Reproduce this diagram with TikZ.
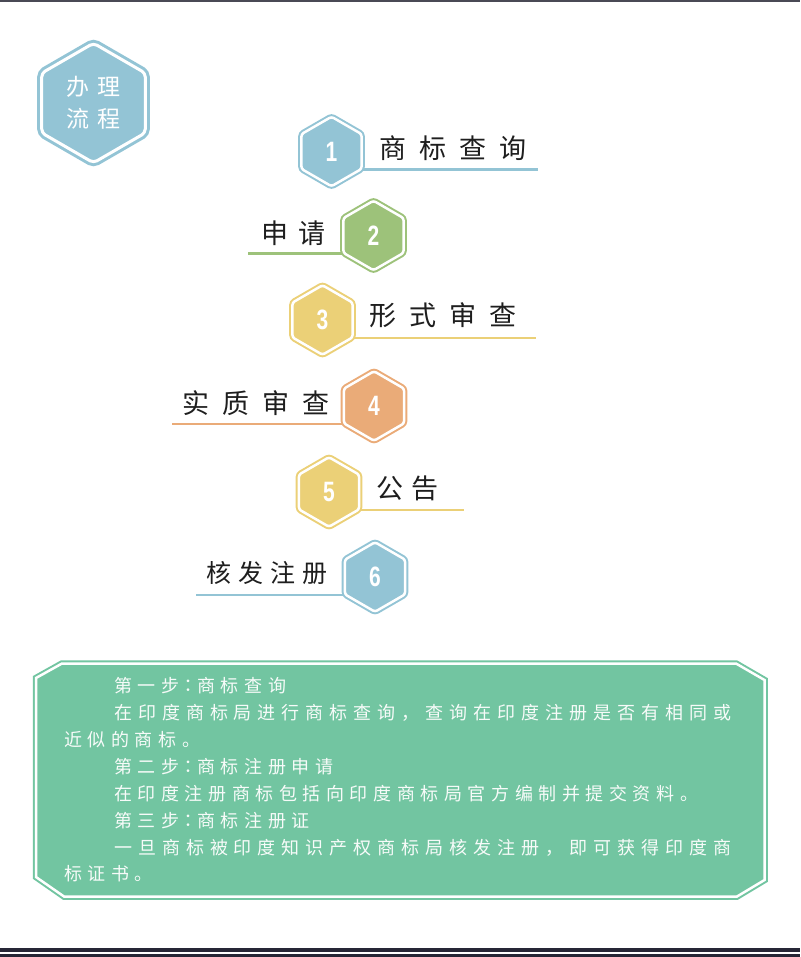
\documentclass[tikz,border=0pt]{standalone}
\usepackage{fontspec}
\setmainfont{Liberation Sans}
\newfontfamily\cjkfont{Noto Sans CJK SC}
\newfontfamily\cjkjpfont{Noto Sans CJK JP}
\newfontfamily\numfont[FakeStretch=0.75]{Liberation Sans}
\newcommand\midcolon{{\cjkjpfont\addfontfeature{LetterSpace=31}：}}
\usetikzlibrary{shapes.geometric}
\definecolor{stepblue}{HTML}{93C4D5}
\definecolor{stepgreen}{HTML}{9DC27A}
\definecolor{stepyellow}{HTML}{EBD077}
\definecolor{steporange}{HTML}{EAAB78}
\definecolor{boxgreen}{HTML}{72C5A1}
\definecolor{inkblack}{HTML}{1E1E1E}
\definecolor{framegray}{HTML}{4A4A55}
\definecolor{framedark}{HTML}{262636}

\begin{document}
\begin{tikzpicture}[
    x=1pt, y=-1pt,
    stephex/.style={
        regular polygon,
        regular polygon sides=6,
        shape border rotate=30,
        minimum size=69.5pt,
        inner sep=0pt,
        fill=#1,
        draw=#1,
        double=white,
        double distance=2.5pt,
        line width=2pt,
        rounded corners=2.5pt,
        text=white,
        font=\numfont\bfseries\fontsize{28}{28}\selectfont
    },
    steplabel/.style={
        anchor=west,
        inner sep=0pt,
        text=inkblack,
        font=\cjkfont\fontsize{27}{27}\selectfont\addfontfeature{LetterSpace=#1}
    },
    steplabel/.default=48,
    stepline/.style={
        draw=#1,
        line width=2.5pt
    },
    boxtext/.style={
        anchor=west,
        inner sep=0pt,
        text=white!94!boxgreen,
        font=\cjkfont\fontsize{18}{18}\selectfont\addfontfeature{LetterSpace=#1}
    },
    boxtext/.default=31,
    notebox/.style={
        fill=boxgreen,
        draw=boxgreen,
        double=white,
        double distance=2.5pt,
        line width=2pt
    }
]
\useasboundingbox (0,0) rectangle (800,957);

% Page frame
\draw[framegray, line width=2pt] (0,1) -- (800,1);
\fill[framedark] (0,947.5) rectangle (800,951.5);
\fill[framedark] (0,953.5) rectangle (800,957);

% Title badge
\node[stephex=stepblue, minimum size=119.6pt, line width=3pt, double distance=3pt,
      rounded corners=4pt, align=center,
      font=\cjkfont\fontsize{23}{32}\selectfont\addfontfeature{LetterSpace=39}]
      (badge) at (93.5,103) {办理\\流程};

% Steps
\node[stephex=stepblue]   (s1) at (331.5,151.5) {1};
\node[stephex=stepgreen]  (s2) at (373.5,235.5) {2};
\node[stephex=stepyellow] (s3) at (322.5,320) {3};
\node[stephex=steporange] (s4) at (374,406) {4};
\node[stephex=stepyellow] (s5) at (329,492) {5};
\node[stephex=stepblue]   (s6) at (375,577) {6};

% Underlines
\foreach \s/\a/\len/\c in {s1/-30/175/stepblue, s2/210/-94/stepgreen,
                          s3/-30/182/stepyellow, s4/210/-171/steporange,
                          s5/-30/104/stepyellow, s6/210/-148/stepblue} {
    \draw[stepline=\c] (\s.\a) -- ++(\len,0);
}

\node[steplabel]    (t1) at (379,148.5) {商标查询};
\node[steplabel=37] (t2) at (261,233) {申请};
\node[steplabel]    (t3) at (369,315) {形式审查};
\node[steplabel]    (t4) at (182,403) {实质审查};
\node[steplabel=30] (t5) at (376,488) {公告};
\node[steplabel, font=\cjkfont\fontsize{25}{25}\selectfont\addfontfeature{LetterSpace=28}]
      (t6) at (206,573) {核发注册};

% Notes
\draw[notebox] (62,663.5) -- (736,663.5) -- (764.5,680) -- (764.5,880)
    -- (737,896.5) -- (64,896.5) -- (36,877) -- (36,678) -- cycle;

\foreach \y/\x/\ls/\txt [count=\i] in {
    686/114/31/{第一步\midcolon 商标查询},
    713/114/33.1/{在印度商标局进行商标查询，查询在印度注册是否有相同或},
    740/64/31/{近似的商标。},
    767/114/31/{第二步\midcolon 商标注册申请},
    794/114/31/{在印度注册商标包括向印度商标局官方编制并提交资料。},
    821/114/31/{第三步\midcolon 商标注册证},
    848/114/33.1/{一旦商标被印度知识产权商标局核发注册，即可获得印度商},
    874/64/31/{标证书。}} {
    \node[boxtext=\ls] (para\i) at (\x,\y) {\txt};
}

\end{tikzpicture}
\end{document}
